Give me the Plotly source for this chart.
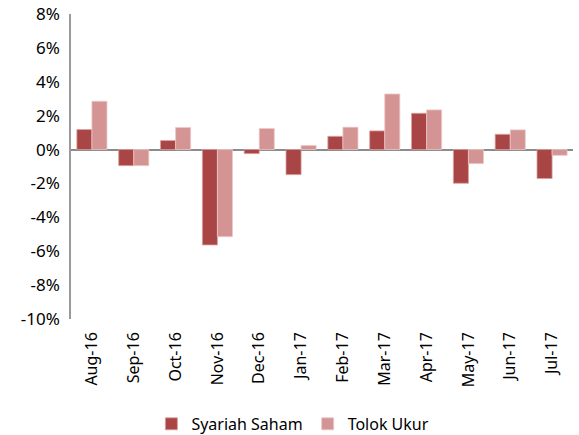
import plotly.graph_objects as go

categories = ["Aug-16", "Sep-16", "Oct-16", "Nov-16", "Dec-16", "Jan-17",
              "Feb-17", "Mar-17", "Apr-17", "May-17", "Jun-17", "Jul-17"]
syariah_saham = [1.18, -0.95, 0.53, -5.63, -0.24, -1.48, 0.78, 1.10, 2.14, -1.99, 0.90, -1.71]
tolok_ukur = [2.85, -0.95, 1.30, -5.14, 1.24, 0.24, 1.32, 3.28, 2.34, -0.83, 1.16, -0.34]
y_ticks = [8, 6, 4, 2, 0, -2, -4, -6, -8, -10]

font = "Noto Sans"

fig = go.Figure()
fig.add_trace(go.Bar(x=categories, y=syariah_saham, name="Syariah Saham",
                     marker=dict(color="#A94545", line=dict(color="#D9A0A0", width=0.8))))
fig.add_trace(go.Bar(x=categories, y=tolok_ukur, name="Tolok Ukur",
                     marker=dict(color="#D49494", line=dict(color="#EBC8C8", width=0.8))))

fig.update_layout(
    width=579, height=435,
    margin=dict(l=71, r=6, t=14, b=116, autoexpand=False),
    plot_bgcolor="white", paper_bgcolor="white",
    barmode="group", bargap=0.28, bargroupgap=0,
    font=dict(family=font, size=16, color="#000000"),
    showlegend=True,
    legend=dict(orientation="h", x=0.442, xanchor="center", y=-0.344, yanchor="middle",
                font=dict(family=font, size=16), itemwidth=30, traceorder="normal"),
    xaxis=dict(showline=False, showgrid=False, ticks="", tickangle=-90, automargin=False,
               ticklabelstandoff=9, tickfont=dict(size=16)),
    yaxis=dict(range=[-10, 8], tickvals=y_ticks, automargin=False,
               ticktext=[f"{v}%" for v in y_ticks],
               showgrid=False, showline=True, linecolor="#9a9a9a", linewidth=1.5,
               zeroline=True, zerolinecolor="#8c8c8c", zerolinewidth=1.5,
               ticks="", ticklabelstandoff=6, tickfont=dict(size=17)),
)

fig.write_html("out.html", config={"displayModeBar": False},
               post_script="document.body.style.margin='0';")
